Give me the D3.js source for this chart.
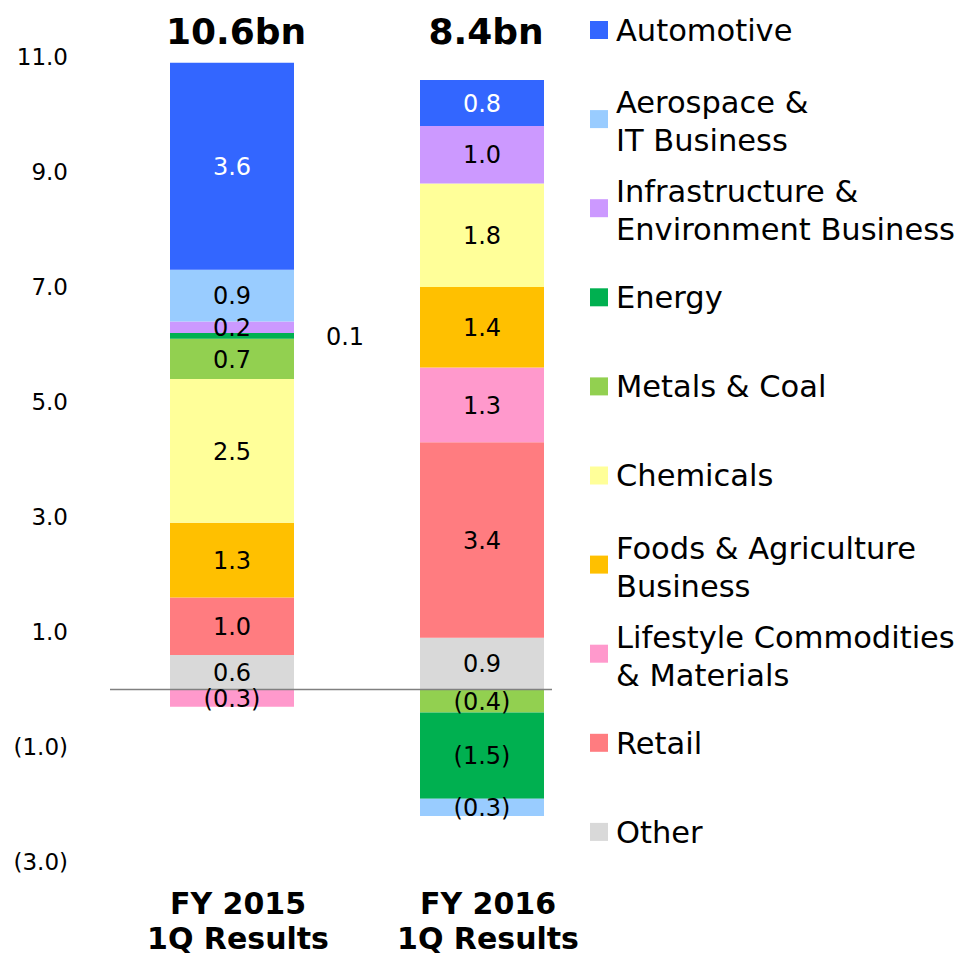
<!DOCTYPE html>
<html>
<head>
<meta charset="utf-8">
<script src="https://cdn.jsdelivr.net/npm/d3@7"></script>
<style>
  body { margin: 0; background: #fff; }
  text { font-family: "DejaVu Sans", Verdana, sans-serif; }
</style>
</head>
<body>
<div id="chart"></div>
<script>
// data (bn yen)
var periods = ["FY2015", "FY2016"];
var periodLabels = [["FY 2015", "1Q Results"], ["FY 2016", "1Q Results"]];

// stacking order, bottom up
var segments = ["Other", "Retail", "Lifestyle", "Foods", "Chemicals", "Metals", "Energy", "Infra", "Aerospace", "Automotive"];
var fy2015 = [0.6, 1.0, -0.3, 1.3, 2.5, 0.7, 0.1, 0.2, 0.9, 3.6];
var fy2016 = [0.9, 3.4, 1.3, 1.4, 1.8, -0.4, -1.5, 1.0, -0.3, 0.8];

var colors = ["#d9d9d9", "#ff7c80", "#ff99cc", "#ffc000", "#ffff99", "#92d050", "#00b050", "#cc99ff", "#99ccff", "#3366ff"];

// legend text, same order as segments
var legendLines = [
  ["Other"],
  ["Retail"],
  ["Lifestyle Commodities", "& Materials"],
  ["Foods & Agriculture", "Business"],
  ["Chemicals"],
  ["Metals & Coal"],
  ["Energy"],
  ["Infrastructure &", "Environment Business"],
  ["Aerospace &", "IT Business"],
  ["Automotive"]
];

var yTicks = [11, 9, 7, 5, 3, 1, -1, -3];

var width = 965, height = 956;

var svg = d3.select("#chart").append("svg")
  .attr("width", width)
  .attr("height", height);

var rows = periods.map(function(p, i) {
  var r = { period: p };
  var vals = i == 0 ? fy2015 : fy2016;
  segments.forEach(function(s, j) { r[s] = vals[j]; });
  return r;
});

var series = d3.stack()
  .keys(segments)
  .offset(d3.stackOffsetDiverging)(rows);

var x = d3.scaleBand()
  .domain(periods)
  .range([107, 607])
  .paddingInner(0.504)
  .paddingOuter(0.252);

var y = d3.scaleLinear()
  .domain([-3, 11])
  .range([862, 57]);

var color = d3.scaleOrdinal().domain(segments).range(colors);

function fmt(v) {
  return v < 0 ? "(" + d3.format(".1f")(-v) + ")" : d3.format(".1f")(v);
}

// y axis, labels only
var yAxis = svg.append("g")
  .attr("transform", "translate(70,0)")
  .call(d3.axisLeft(y).tickValues(yTicks).tickSize(0).tickPadding(2).tickFormat(fmt));
yAxis.select(".domain").remove();
yAxis.selectAll("text")
  .style("font-family", "'DejaVu Sans', Verdana, sans-serif")
  .style("font-size", "23px")
  .attr("fill", "#000");

// bars
var layer = svg.selectAll(".layer")
  .data(series)
  .enter().append("g")
  .attr("class", "layer")
  .attr("fill", function(d) { return color(d.key); });

layer.selectAll("rect")
  .data(function(d) { return d; })
  .enter().append("rect")
  .attr("x", function(d) { return x(d.data.period); })
  .attr("y", function(d) { return y(d[1]); })
  .attr("width", x.bandwidth())
  .attr("height", function(d) { return Math.max(0, y(d[0]) - y(d[1])); });

// zero line
svg.append("line")
  .attr("x1", 110).attr("x2", 552)
  .attr("y1", y(0)).attr("y2", y(0))
  .attr("stroke", "#808080")
  .attr("stroke-width", 1.5);

// value labels
series.forEach(function(s) {
  s.forEach(function(d) {
    var v = d.data[s.key];
    var h = Math.abs(y(d[0]) - y(d[1]));
    var cx = x(d.data.period) + x.bandwidth() / 2;
    var cy = (y(d[0]) + y(d[1])) / 2;
    if (h < 8) cx = x(d.data.period) + x.bandwidth() + 51; // too thin, put it beside
    svg.append("text")
      .attr("x", cx)
      .attr("y", cy)
      .attr("dy", "0.36em")
      .attr("text-anchor", "middle")
      .style("font-size", "24px")
      .attr("fill", s.key == "Automotive" ? "#fff" : "#000")
      .text(fmt(v));
  });
});

// totals on top
periods.forEach(function(p, i) {
  var total = d3.sum(segments, function(s) { return rows[i][s]; });
  svg.append("text")
    .attr("x", x(p) + x.bandwidth() / 2 + 4)
    .attr("y", 44)
    .attr("text-anchor", "middle")
    .style("font-size", "36px")
    .style("font-weight", "bold")
    .text(d3.format(".1f")(total) + "bn");
});

// category labels
periods.forEach(function(p, i) {
  var t = svg.append("text")
    .attr("text-anchor", "middle")
    .style("font-size", "30px")
    .style("font-weight", "bold");
  periodLabels[i].forEach(function(line, k) {
    t.append("tspan")
      .attr("x", x(p) + x.bandwidth() / 2 + 6)
      .attr("y", 914 + k * 35)
      .text(line);
  });
});

// legend, top to bottom is reverse of stack
var legendOrder = segments.slice().reverse();
var legend = svg.selectAll(".legend")
  .data(legendOrder)
  .enter().append("g")
  .attr("class", "legend")
  .attr("transform", function(d, i) { return "translate(590," + (30 + i * 89.1) + ")"; });

legend.append("rect")
  .attr("x", 0).attr("y", -9)
  .attr("width", 18).attr("height", 18)
  .attr("fill", function(d) { return color(d); });

legend.each(function(d) {
  var lines = legendLines[segments.indexOf(d)];
  var t = d3.select(this).append("text")
    .style("font-size", "30.5px")
    .attr("fill", "#000");
  var off = lines.length == 1 ? 0 : -17;
  lines.forEach(function(line, k) {
    t.append("tspan")
      .attr("x", 26)
      .attr("y", off + k * 38)
      .attr("dy", "0.36em")
      .text(line);
  });
});
</script>
</body>
</html>
